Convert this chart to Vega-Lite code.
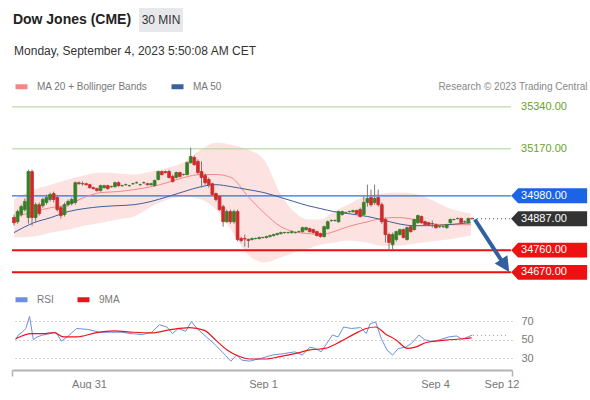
{
 "$schema": "https://vega.github.io/schema/vega-lite/v6.json",
 "background": "white",
 "padding": {"left": 11, "top": 8, "right": 4, "bottom": 0},
 "config": {"view": {"stroke": null}, "font": "Liberation Sans", "axis": {"labelOverlap": false}, "axisY": {"labelOverlap": false}, "scale": {"continuousPadding": 0}},
 "datasets": {
  "hdr1": [{"t": "Dow Jones (CME)"}],
  "hdr2": [{"t": "30 MIN"}],
  "hdr3": [{"t": "Monday, September 4, 2023 5:50:08 AM CET"}],
  "levels": [
   {"p": 35340, "t": "35340.00", "k": "g"},
   {"p": 35170, "t": "35170.00", "k": "g"},
   {"p": 34980, "t": "34980.00", "k": "b"},
   {"p": 34887, "t": "34887.00", "k": "d"},
   {"p": 34760, "t": "34760.00", "k": "r"},
   {"p": 34670, "t": "34670.00", "k": "r"}
  ],
  "arrow": [{"i": 127.8, "p": 34884}, {"i": 135.1, "p": 34720}],
  "head": [{"i": 136.2, "p": 34697}],
  "ind": [
   {"i": 0, "ma20": 34892, "ma50": 34831, "u": 34965, "l": 34811},
   {"i": 5.5, "ma20": 34916, "ma50": 34871, "u": 35005, "l": 34815},
   {"i": 10.3, "ma20": 34932, "ma50": 34892, "u": 35025, "l": 34831},
   {"i": 15, "ma20": 34944, "ma50": 34916, "u": 35046, "l": 34843},
   {"i": 19.4, "ma20": 34973, "ma50": 34928, "u": 35062, "l": 34859},
   {"i": 24.1, "ma20": 34993, "ma50": 34936, "u": 35074, "l": 34871},
   {"i": 28.8, "ma20": 34997, "ma50": 34940, "u": 35070, "l": 34884},
   {"i": 33.3, "ma20": 35005, "ma50": 34944, "u": 35066, "l": 34896},
   {"i": 38, "ma20": 35017, "ma50": 34957, "u": 35078, "l": 34936},
   {"i": 42.7, "ma20": 35034, "ma50": 34977, "u": 35094, "l": 34965},
   {"i": 47.1, "ma20": 35054, "ma50": 34997, "u": 35115, "l": 34977},
   {"i": 51.9, "ma20": 35066, "ma50": 35017, "u": 35167, "l": 34965},
   {"i": 56, "ma20": 35066, "ma50": 35025, "u": 35195, "l": 34924},
   {"i": 60.2, "ma20": 35054, "ma50": 35017, "u": 35187, "l": 34843},
   {"i": 64.9, "ma20": 34977, "ma50": 35005, "u": 35167, "l": 34742},
   {"i": 69.3, "ma20": 34912, "ma50": 34993, "u": 35127, "l": 34710},
   {"i": 74, "ma20": 34855, "ma50": 34973, "u": 34985, "l": 34730},
   {"i": 77.6, "ma20": 34835, "ma50": 34957, "u": 34916, "l": 34750},
   {"i": 81.5, "ma20": 34827, "ma50": 34940, "u": 34884, "l": 34766},
   {"i": 85.1, "ma20": 34823, "ma50": 34928, "u": 34884, "l": 34782},
   {"i": 88.7, "ma20": 34835, "ma50": 34916, "u": 34916, "l": 34790},
   {"i": 92.6, "ma20": 34855, "ma50": 34908, "u": 34944, "l": 34799},
   {"i": 98.1, "ma20": 34875, "ma50": 34896, "u": 34981, "l": 34790},
   {"i": 101.8, "ma20": 34888, "ma50": 34884, "u": 34989, "l": 34778},
   {"i": 106.5, "ma20": 34892, "ma50": 34867, "u": 34993, "l": 34778},
   {"i": 110.9, "ma20": 34884, "ma50": 34859, "u": 34989, "l": 34786},
   {"i": 115.6, "ma20": 34867, "ma50": 34859, "u": 34965, "l": 34795},
   {"i": 120.3, "ma20": 34863, "ma50": 34863, "u": 34932, "l": 34803},
   {"i": 126.7, "ma20": 34863, "ma50": 34871, "u": 34908, "l": 34819}
  ],
  "candles": [
   {"i":0,"o":34892,"c":34871,"h":34904,"l":34859},
   {"i":1,"o":34875,"c":34916,"h":34924,"l":34867},
   {"i":2,"o":34904,"c":34936,"h":34944,"l":34896},
   {"i":3,"o":34924,"c":34957,"h":34969,"l":34916},
   {"i":4,"o":34892,"c":35078,"h":35086,"l":34867},
   {"i":5,"o":35078,"c":34892,"h":35086,"l":34859},
   {"i":6,"o":34892,"c":34944,"h":34953,"l":34875},
   {"i":7,"o":34944,"c":34908,"h":34953,"l":34900},
   {"i":8,"o":34940,"c":34965,"h":34973,"l":34932},
   {"i":9,"o":34953,"c":34973,"h":34985,"l":34944},
   {"i":10,"o":34965,"c":34985,"h":34993,"l":34957},
   {"i":11,"o":34989,"c":34965,"h":34997,"l":34953},
   {"i":12,"o":34973,"c":34924,"h":34981,"l":34916},
   {"i":13,"o":34932,"c":34900,"h":34940,"l":34888},
   {"i":14,"o":34904,"c":34944,"h":34953,"l":34896},
   {"i":15,"o":34944,"c":34957,"h":34965,"l":34936},
   {"i":16,"o":34949,"c":34965,"h":34973,"l":34940},
   {"i":17,"o":34953,"c":35033,"h":35038,"l":34944},
   {"i":18,"o":35033,"c":35029,"h":35038,"l":35025},
   {"i":19,"o":35029,"c":35029,"h":35038,"l":35021},
   {"i":20,"o":35029,"c":35025,"h":35033,"l":35021},
   {"i":21,"o":35025,"c":35013,"h":35029,"l":35009},
   {"i":22,"o":35013,"c":35009,"h":35017,"l":35005},
   {"i":23,"o":35009,"c":35001,"h":35013,"l":34997},
   {"i":24,"o":35001,"c":35021,"h":35025,"l":34997},
   {"i":25,"o":35013,"c":35021,"h":35025,"l":35009},
   {"i":26,"o":35021,"c":35009,"h":35025,"l":35005},
   {"i":27,"o":35017,"c":35017,"h":35021,"l":35013},
   {"i":28,"o":35017,"c":35033,"h":35038,"l":35013},
   {"i":29,"o":35033,"c":35021,"h":35038,"l":35017},
   {"i":30,"o":35021,"c":35021,"h":35025,"l":35017},
   {"i":31,"o":35025,"c":35025,"h":35029,"l":35021},
   {"i":32,"o":35021,"c":35021,"h":35025,"l":35017},
   {"i":33,"o":35029,"c":35029,"h":35033,"l":35025},
   {"i":34,"o":35033,"c":35033,"h":35038,"l":35029},
   {"i":35,"o":35025,"c":35025,"h":35029,"l":35021},
   {"i":36,"o":35033,"c":35033,"h":35038,"l":35029},
   {"i":37,"o":35029,"c":35025,"h":35033,"l":35021},
   {"i":38,"o":35025,"c":35029,"h":35033,"l":35021},
   {"i":39,"o":35021,"c":35042,"h":35046,"l":35017},
   {"i":40,"o":35046,"c":35078,"h":35082,"l":35042},
   {"i":41,"o":35078,"c":35066,"h":35082,"l":35062},
   {"i":42,"o":35078,"c":35074,"h":35082,"l":35070},
   {"i":43,"o":35078,"c":35054,"h":35086,"l":35050},
   {"i":44,"o":35058,"c":35038,"h":35066,"l":35033},
   {"i":45,"o":35054,"c":35074,"h":35078,"l":35050},
   {"i":46,"o":35074,"c":35058,"h":35078,"l":35054},
   {"i":47,"o":35066,"c":35066,"h":35070,"l":35062},
   {"i":48,"o":35066,"c":35114,"h":35119,"l":35062},
   {"i":49,"o":35114,"c":35139,"h":35175,"l":35110},
   {"i":50,"o":35135,"c":35106,"h":35143,"l":35102},
   {"i":51,"o":35119,"c":35074,"h":35127,"l":35066},
   {"i":52,"o":35078,"c":35054,"h":35119,"l":35013},
   {"i":53,"o":35062,"c":35033,"h":35070,"l":35025},
   {"i":54,"o":35046,"c":35025,"h":35054,"l":35013},
   {"i":55,"o":35029,"c":34985,"h":35033,"l":34981},
   {"i":56,"o":34989,"c":34965,"h":34993,"l":34957},
   {"i":57,"o":34977,"c":34924,"h":34981,"l":34920},
   {"i":58,"o":34936,"c":34875,"h":34944,"l":34855},
   {"i":59,"o":34875,"c":34916,"h":34924,"l":34871},
   {"i":60,"o":34916,"c":34875,"h":34924,"l":34867},
   {"i":61,"o":34875,"c":34916,"h":34924,"l":34867},
   {"i":62,"o":34916,"c":34803,"h":34924,"l":34795},
   {"i":63,"o":34807,"c":34799,"h":34815,"l":34791},
   {"i":64,"o":34807,"c":34805,"h":34823,"l":34774},
   {"i":65,"o":34803,"c":34799,"h":34807,"l":34770},
   {"i":66,"o":34803,"c":34807,"h":34811,"l":34799},
   {"i":67,"o":34807,"c":34807,"h":34811,"l":34803},
   {"i":68,"o":34807,"c":34811,"h":34815,"l":34803},
   {"i":69,"o":34811,"c":34811,"h":34815,"l":34807},
   {"i":70,"o":34811,"c":34815,"h":34819,"l":34807},
   {"i":71,"o":34815,"c":34819,"h":34823,"l":34811},
   {"i":72,"o":34819,"c":34823,"h":34827,"l":34815},
   {"i":73,"o":34823,"c":34827,"h":34831,"l":34819},
   {"i":74,"o":34827,"c":34831,"h":34835,"l":34823},
   {"i":75,"o":34831,"c":34831,"h":34835,"l":34827},
   {"i":76,"o":34831,"c":34831,"h":34835,"l":34827},
   {"i":77,"o":34831,"c":34835,"h":34839,"l":34827},
   {"i":78,"o":34831,"c":34831,"h":34835,"l":34827},
   {"i":79,"o":34835,"c":34835,"h":34839,"l":34831},
   {"i":80,"o":34835,"c":34851,"h":34855,"l":34831},
   {"i":81,"o":34843,"c":34851,"h":34855,"l":34839},
   {"i":82,"o":34847,"c":34835,"h":34851,"l":34831},
   {"i":83,"o":34843,"c":34831,"h":34847,"l":34827},
   {"i":84,"o":34835,"c":34819,"h":34839,"l":34815},
   {"i":85,"o":34827,"c":34815,"h":34831,"l":34811},
   {"i":86,"o":34815,"c":34855,"h":34859,"l":34811},
   {"i":87,"o":34847,"c":34875,"h":34880,"l":34843},
   {"i":88,"o":34880,"c":34880,"h":34884,"l":34875},
   {"i":89,"o":34880,"c":34880,"h":34884,"l":34875},
   {"i":90,"o":34875,"c":34916,"h":34920,"l":34871},
   {"i":91,"o":34904,"c":34916,"h":34920,"l":34900},
   {"i":92,"o":34912,"c":34912,"h":34916,"l":34908},
   {"i":93,"o":34916,"c":34916,"h":34920,"l":34912},
   {"i":94,"o":34916,"c":34920,"h":34924,"l":34912},
   {"i":95,"o":34920,"c":34908,"h":34924,"l":34904},
   {"i":96,"o":34924,"c":34896,"h":34932,"l":34892},
   {"i":97,"o":34904,"c":34953,"h":34977,"l":34900},
   {"i":98,"o":34953,"c":34969,"h":35025,"l":34936},
   {"i":99,"o":34973,"c":34944,"h":35005,"l":34936},
   {"i":100,"o":34953,"c":34969,"h":35025,"l":34944},
   {"i":101,"o":34973,"c":34944,"h":35005,"l":34936},
   {"i":102,"o":34944,"c":34875,"h":34953,"l":34867},
   {"i":103,"o":34884,"c":34823,"h":34892,"l":34791},
   {"i":104,"o":34823,"c":34791,"h":34831,"l":34762},
   {"i":105,"o":34782,"c":34823,"h":34831,"l":34762},
   {"i":106,"o":34803,"c":34835,"h":34839,"l":34795},
   {"i":107,"o":34823,"c":34843,"h":34847,"l":34819},
   {"i":108,"o":34843,"c":34811,"h":34847,"l":34807},
   {"i":109,"o":34803,"c":34851,"h":34855,"l":34799},
   {"i":110,"o":34855,"c":34835,"h":34859,"l":34831},
   {"i":111,"o":34843,"c":34884,"h":34888,"l":34839},
   {"i":112,"o":34871,"c":34900,"h":34904,"l":34867},
   {"i":113,"o":34896,"c":34871,"h":34900,"l":34867},
   {"i":114,"o":34875,"c":34863,"h":34880,"l":34859},
   {"i":115,"o":34871,"c":34863,"h":34875,"l":34859},
   {"i":116,"o":34867,"c":34867,"h":34880,"l":34851},
   {"i":117,"o":34863,"c":34851,"h":34867,"l":34847},
   {"i":118,"o":34855,"c":34855,"h":34859,"l":34851},
   {"i":119,"o":34855,"c":34855,"h":34859,"l":34851},
   {"i":120,"o":34851,"c":34863,"h":34867,"l":34847},
   {"i":121,"o":34871,"c":34884,"h":34888,"l":34867},
   {"i":122,"o":34884,"c":34884,"h":34888,"l":34880},
   {"i":123,"o":34888,"c":34888,"h":34892,"l":34884},
   {"i":124,"o":34888,"c":34871,"h":34892,"l":34867},
   {"i":125,"o":34875,"c":34875,"h":34880,"l":34871},
   {"i":126,"o":34871,"c":34888,"h":34892,"l":34867},
   {"i":127,"o":34888,"c":34887,"h":34892,"l":34884}
  ],
  "rsi": [
   {"i":0.46,"v":50},{"i":1.19,"v":55},{"i":2.23,"v":58},{"i":3.27,"v":62},{"i":4.32,"v":75},
   {"i":5.36,"v":50},{"i":6.4,"v":53},{"i":7.97,"v":55},{"i":10.05,"v":56.5},{"i":11.62,"v":58},
   {"i":13.18,"v":48.5},{"i":14.75,"v":53},{"i":17.36,"v":62},{"i":20.49,"v":61},{"i":23.62,"v":58},
   {"i":26.75,"v":58},{"i":29.88,"v":58},{"i":32.49,"v":56.5},{"i":35.62,"v":55.5},{"i":38.22,"v":58},
   {"i":40.31,"v":66},{"i":42.4,"v":63.6},{"i":43.96,"v":56.5},{"i":45.53,"v":62},{"i":47.61,"v":59},
   {"i":49.18,"v":69.6},{"i":50.74,"v":62},{"i":53.35,"v":53},{"i":55.96,"v":44},{"i":58.57,"v":33.5},
   {"i":60.13,"v":27},{"i":61.7,"v":33.5},{"i":63.26,"v":28},{"i":65.35,"v":27},{"i":68.48,"v":30},
   {"i":71.61,"v":33.5},{"i":74.74,"v":35},{"i":77.87,"v":37},{"i":79.96,"v":33.5},{"i":82.04,"v":42},
   {"i":83.61,"v":40.6},{"i":85.17,"v":37},{"i":86.74,"v":46},{"i":88.3,"v":55},{"i":89.87,"v":53},
   {"i":91.43,"v":63.6},{"i":93.52,"v":62},{"i":96.13,"v":63},{"i":97.69,"v":56.5},{"i":98.73,"v":67},
   {"i":100.3,"v":69},{"i":101.87,"v":51},{"i":103.43,"v":39},{"i":105,"v":33.5},{"i":106.56,"v":40.6},
   {"i":108.65,"v":42},{"i":110.21,"v":46},{"i":112.3,"v":55},{"i":113.86,"v":50},{"i":115.95,"v":48},
   {"i":118.04,"v":50},{"i":120.64,"v":53},{"i":122.73,"v":54},{"i":124.29,"v":50.5},{"i":125.86,"v":53},
   {"i":127.11,"v":55}
  ],
  "rsima": [
   {"i":0.46,"v":51},{"i":4.84,"v":56.5},{"i":7.97,"v":56.5},{"i":11.1,"v":57.6},{"i":13.7,"v":53},
   {"i":17.36,"v":53},{"i":22.57,"v":57.3},{"i":27.79,"v":59.4},{"i":33.01,"v":58},{"i":38.22,"v":57.3},
   {"i":43.44,"v":60.8},{"i":48.66,"v":63},{"i":52.83,"v":60},{"i":55.96,"v":49.5},{"i":59.09,"v":39},
   {"i":62.22,"v":32.5},{"i":65.35,"v":29.3},{"i":69.52,"v":29.3},{"i":73.7,"v":31.8},{"i":77.87,"v":35},
   {"i":82.04,"v":39},{"i":86.21,"v":40.6},{"i":90.38,"v":47.7},{"i":94.55,"v":56.5},{"i":97.69,"v":62},
   {"i":100.3,"v":63.6},{"i":102.9,"v":56.5},{"i":106.03,"v":49.5},{"i":109.16,"v":40.6},{"i":111.25,"v":42},
   {"i":114.38,"v":47},{"i":119.59,"v":49.5},{"i":124.81,"v":51},{"i":126.9,"v":52}
  ],
  "rsilast": [{"v": 54.6}]
 },
 "spacing": 18,
 "resolve": {"scale": {"color": "independent"}, "legend": {"color": "independent"}},
 "vconcat": [
  {
   "spacing": 10,
   "vconcat": [
    {
     "spacing": 7,
     "hconcat": [
      {"width": 120, "height": 24, "data": {"name": "hdr1"},
       "mark": {"type": "text", "fontSize": 14, "fontWeight": "bold", "color": "#222"},
       "encoding": {"text": {"field": "t"}}},
      {"width": 44, "height": 24, "view": {"fill": "#e6e8eb", "stroke": null}, "data": {"name": "hdr2"},
       "mark": {"type": "text", "fontSize": 12, "color": "#333"},
       "encoding": {"text": {"field": "t"}}}
     ]
    },
    {"width": 246, "height": 18, "data": {"name": "hdr3"},
     "mark": {"type": "text", "fontSize": 12, "color": "#333"},
     "encoding": {"text": {"field": "t"}}}
   ]
  },
  {
   "spacing": 9,
   "resolve": {"scale": {"color": "independent"}, "legend": {"color": "independent"}},
   "vconcat": [
    {
     "width": 575, "height": 185,
     "layer": [
      {"data": {"name": "ind"},
       "mark": {"type": "area", "interpolate": "monotone", "color": "#fde2e2", "opacity": 1},
       "encoding": {
        "x": {"field": "i", "type": "quantitative",
         "scale": {"domain": [-0.555, 158.9], "nice": false, "zero": false, "padding": 0},
         "axis": {"orient": "top", "title": "Research © 2023 Trading Central", "titleAnchor": "end", "labels": false, "ticks": false, "domain": false, "grid": false, "titleFontSize": 10, "titleFontWeight": "normal", "titleColor": "#888", "titlePadding": 6}},
        "y": {"field": "u", "type": "quantitative", "scale": {"domain": [34631, 35380], "nice": false, "zero": false, "padding": 0}, "axis": null},
        "y2": {"field": "l"}}},
      {"data": {"name": "levels"}, "transform": [{"filter": "datum.k == 'g'"}],
       "mark": {"type": "rule", "color": "#a9d38f", "strokeWidth": 1},
       "encoding": {"x": {"datum": -0.555, "type": "quantitative"}, "x2": {"datum": 137.8},
        "y": {"field": "p", "type": "quantitative"}}},
      {"data": {"name": "levels"}, "transform": [{"filter": "datum.k == 'b'"}],
       "mark": {"type": "rule", "color": "#2f6fdc", "strokeWidth": 1.3},
       "encoding": {"x": {"datum": -0.555, "type": "quantitative"}, "x2": {"datum": 137.8},
        "y": {"field": "p", "type": "quantitative"}}},
      {"data": {"name": "levels"}, "transform": [{"filter": "datum.k == 'r'"}],
       "mark": {"type": "rule", "color": "#e8100f", "strokeWidth": 2},
       "encoding": {"x": {"datum": -0.555, "type": "quantitative"}, "x2": {"datum": 137.8},
        "y": {"field": "p", "type": "quantitative"}}},
      {"data": {"name": "levels"}, "transform": [{"filter": "datum.k == 'd'"}],
       "mark": {"type": "rule", "color": "#444", "strokeWidth": 1, "strokeDash": [1, 3]},
       "encoding": {"x": {"datum": 127.3, "type": "quantitative"}, "x2": {"datum": 137.8},
        "y": {"field": "p", "type": "quantitative"}}},
      {"data": {"name": "ind"},
       "mark": {"type": "line", "interpolate": "monotone", "strokeWidth": 1},
       "encoding": {"x": {"field": "i", "type": "quantitative"},
        "y": {"field": "ma20", "type": "quantitative"},
        "color": {"datum": "MA 20 + Bollinger Bands",
         "scale": {"domain": ["MA 20 + Bollinger Bands", "MA 50"], "range": ["#f28787", "#3d6099"]},
         "legend": {"orient": "none", "legendX": 1, "legendY": -19, "direction": "horizontal", "title": null,
          "symbolType": "stroke", "symbolStrokeWidth": 5, "symbolSize": 144, "labelFontSize": 10, "labelColor": "#777",
          "labelOffset": 7, "columnPadding": 13, "padding": 0}}}},
      {"data": {"name": "ind"},
       "mark": {"type": "line", "interpolate": "monotone", "strokeWidth": 1},
       "encoding": {"x": {"field": "i", "type": "quantitative"},
        "y": {"field": "ma50", "type": "quantitative"},
        "color": {"datum": "MA 50"}}},
      {"data": {"name": "candles"},
       "mark": {"type": "rule", "color": "#7a7a7a", "strokeWidth": 1},
       "encoding": {"x": {"field": "i", "type": "quantitative"},
        "y": {"field": "h", "type": "quantitative"}, "y2": {"field": "l"}}},
      {"data": {"name": "candles"},
       "mark": {"type": "bar", "size": 2.8, "strokeWidth": 0.8},
       "encoding": {"x": {"field": "i", "type": "quantitative"},
        "y": {"field": "o", "type": "quantitative"}, "y2": {"field": "c"},
        "color": {"condition": {"test": "datum.c >= datum.o", "value": "#3a7d28"}, "value": "#cf2a2a"},
        "stroke": {"condition": {"test": "datum.c >= datum.o", "value": "#3a7d28"}, "value": "#cf2a2a"}}},
      {"data": {"name": "arrow"},
       "mark": {"type": "line", "color": "#2f609f", "strokeWidth": 4, "strokeCap": "butt"},
       "encoding": {"x": {"field": "i", "type": "quantitative"},
        "y": {"field": "p", "type": "quantitative"}}},
      {"data": {"name": "head"},
       "mark": {"type": "point", "shape": "M-1,-1L1,-1L0,1Z", "size": 225, "angle": 327, "filled": true, "opacity": 1, "color": "#2f609f"},
       "encoding": {"x": {"field": "i", "type": "quantitative"},
        "y": {"field": "p", "type": "quantitative"}}},
      {"data": {"name": "levels"}, "transform": [{"filter": "datum.k != 'g'"}],
       "mark": {"type": "point", "shape": "M-1,0L-0.816,-0.197L1,-0.197L1,0.197L-0.816,0.197Z", "size": 5776, "filled": true, "opacity": 1, "strokeWidth": 0},
       "encoding": {"x": {"datum": 148.4, "type": "quantitative"},
        "y": {"field": "p", "type": "quantitative"},
        "color": {"condition": [{"test": "datum.k == 'b'", "value": "#1c64e6"}, {"test": "datum.k == 'd'", "value": "#333333"}], "value": "#ee1111"}}},
      {"data": {"name": "levels"},
       "mark": {"type": "text", "align": "left", "baseline": "middle", "fontSize": 11},
       "encoding": {"x": {"datum": 140.6, "type": "quantitative"},
        "y": {"field": "p", "type": "quantitative"},
        "text": {"field": "t"},
        "color": {"condition": {"test": "datum.k == 'g'", "value": "#66a526"}, "value": "#ffffff"}}}
     ]
    },
    {
     "width": 500, "height": 58,
     "layer": [
      {"data": {"name": "rsi"},
       "mark": {"type": "line", "strokeWidth": 1},
       "encoding": {
        "x": {"field": "i", "type": "quantitative",
         "scale": {"domain": [-0.555, 138.1], "nice": false, "zero": false, "padding": 0},
         "axis": {"values": [-0.555, 20.8, 69.05, 116.75, 135.2, 138.1],
          "labelExpr": "datum.value < 0 || datum.value > 137 ? '' : datum.value < 30 ? 'Aug 31' : datum.value < 90 ? 'Sep 1' : datum.value < 125 ? 'Sep 4' : 'Sep 12'",
          "tickOpacity": {"condition": {"test": "datum.value < 0 || datum.value > 137", "value": 1}, "value": 0},
          "tickSize": 6, "tickWidth": 1.5, "tickColor": "#b3b3b3", "domainColor": "#b3b3b3", "domainWidth": 2,
          "grid": false, "title": null, "labelFontSize": 11, "labelColor": "#777", "labelPadding": 2,
          "labelOverlap": false, "labelFlush": false}},
        "y": {"field": "v", "type": "quantitative", "scale": {"domain": [17.5, 79.7], "nice": false, "zero": false},
         "axis": {"orient": "right", "values": [30, 50, 70], "grid": true, "gridDash": [1, 3], "gridColor": "#aaa", "domain": false, "ticks": false, "labelPadding": 9, "title": null, "labelFontSize": 11, "labelColor": "#777", "labelOverlap": false, "labelBound": false}},
        "color": {"datum": "RSI",
         "scale": {"domain": ["RSI", "9MA"], "range": ["#6b8fe0", "#e8161b"]},
         "legend": {"orient": "none", "legendX": 1, "legendY": -21, "direction": "horizontal", "title": null,
          "symbolType": "stroke", "symbolStrokeWidth": 5, "symbolSize": 144, "labelFontSize": 10, "labelColor": "#777",
          "labelOffset": 7, "columnPadding": 13, "padding": 0}}}},
      {"data": {"name": "rsima"},
       "mark": {"type": "line", "strokeWidth": 1.2, "interpolate": "monotone"},
       "encoding": {"x": {"field": "i", "type": "quantitative"},
        "y": {"field": "v", "type": "quantitative",
         "axis": {"orient": "right", "values": [30, 50, 70], "grid": true, "gridDash": [1, 3], "gridColor": "#aaa", "domain": false, "ticks": false, "labelPadding": 9, "title": null, "labelFontSize": 11, "labelColor": "#777", "labelOverlap": false, "labelBound": false}},
        "color": {"datum": "9MA"}}},
      {"data": {"name": "rsilast"},
       "mark": {"type": "rule", "color": "#999", "strokeWidth": 1, "strokeDash": [1, 3]},
       "encoding": {"x": {"datum": 127.3, "type": "quantitative"}, "x2": {"datum": 137.3},
        "y": {"field": "v", "type": "quantitative",
         "axis": {"orient": "right", "values": [30, 50, 70], "grid": true, "gridDash": [1, 3], "gridColor": "#aaa", "domain": false, "ticks": false, "labelPadding": 9, "title": null, "labelFontSize": 11, "labelColor": "#777", "labelOverlap": false, "labelBound": false}}}}
     ]
    }
   ]
  }
 ]
}
